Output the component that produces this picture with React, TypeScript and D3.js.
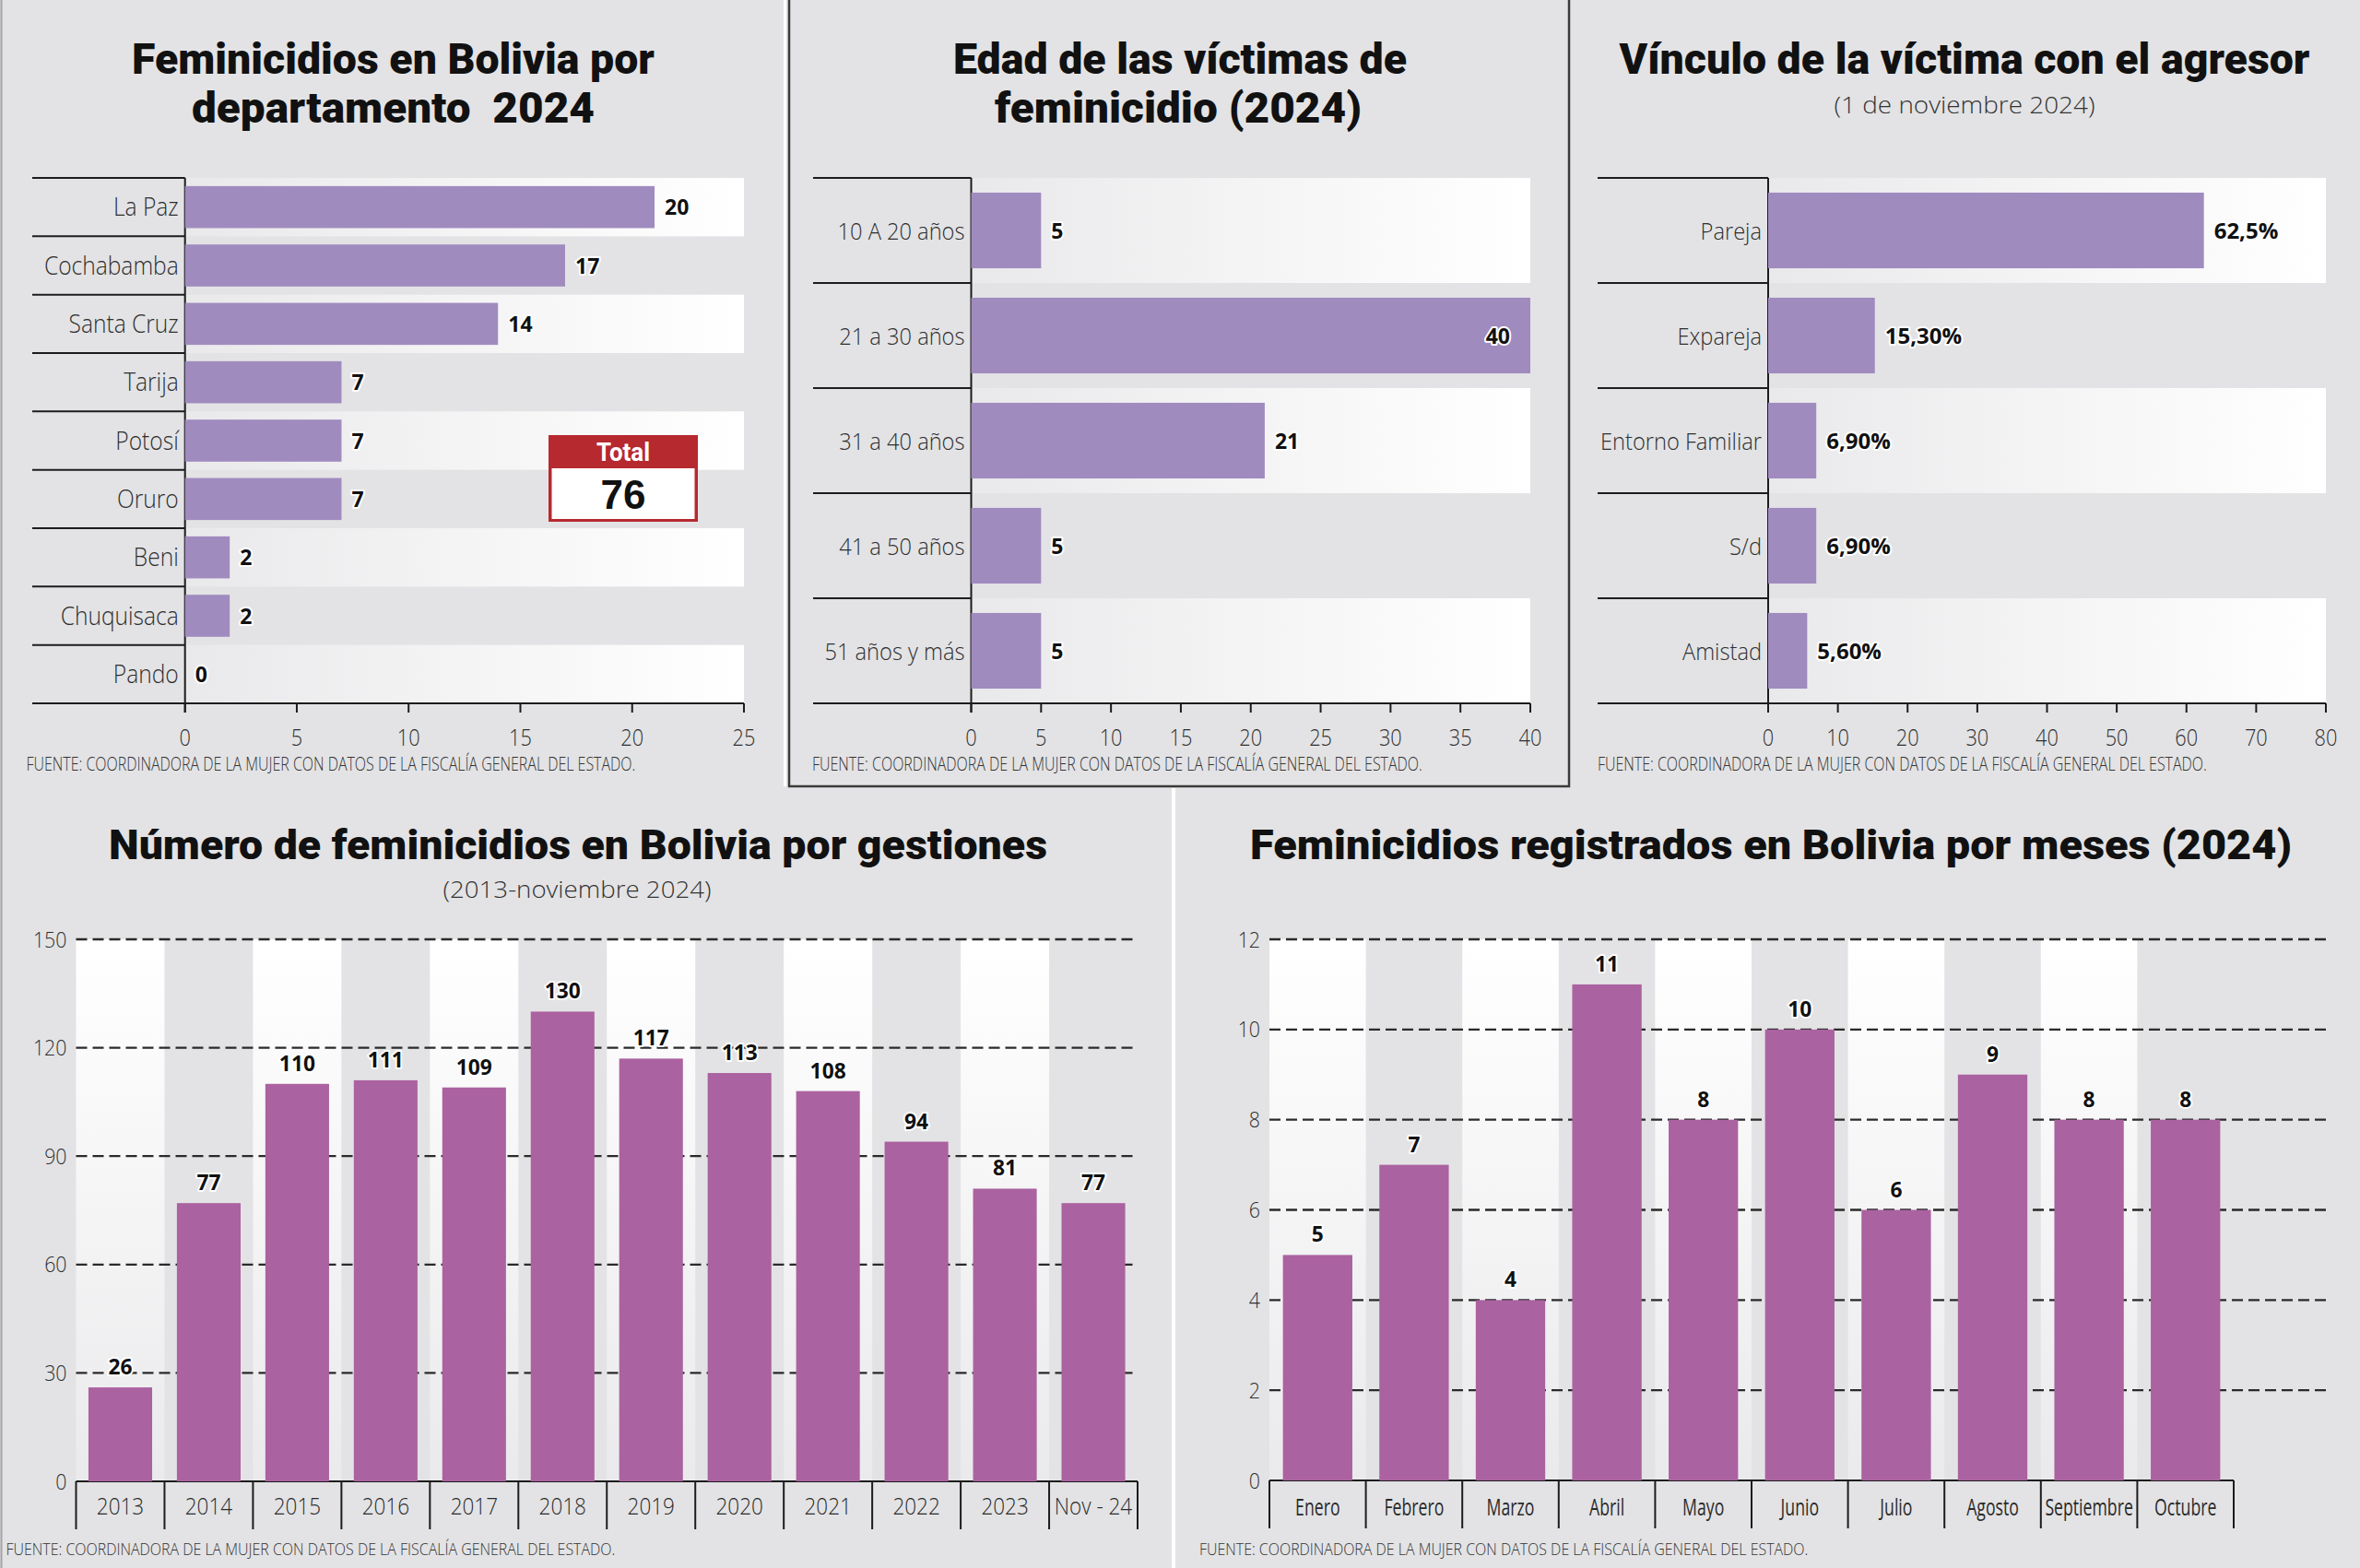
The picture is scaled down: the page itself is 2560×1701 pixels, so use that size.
import React, { useLayoutEffect, useRef, useState } from 'react';
import * as d3 from 'd3';

// ---------- DATA ----------
const deptCategories = ['La Paz', 'Cochabamba', 'Santa Cruz', 'Tarija', 'Potosí', 'Oruro', 'Beni', 'Chuquisaca', 'Pando'];
const deptValues = [21, 17, 14, 7, 7, 7, 2, 2, 0]; // bar lengths as drawn in the picture
const deptLabels = ['20', '17', '14', '7', '7', '7', '2', '2', '0'];
const deptTicks = [0, 5, 10, 15, 20, 25];
const deptTotal = '76';

const ageCategories = ['10 A 20 años', '21 a 30 años', '31 a 40 años', '41 a 50 años', '51 años y más'];
const ageValues = [5, 40, 21, 5, 5];
const ageLabels = ['5', '40', '21', '5', '5'];
const ageTicks = [0, 5, 10, 15, 20, 25, 30, 35, 40];

const linkCategories = ['Pareja', 'Expareja', 'Entorno Familiar', 'S/d', 'Amistad'];
const linkValues = [62.5, 15.3, 6.9, 6.9, 5.6];
const linkLabels = ['62,5%', '15,30%', '6,90%', '6,90%', '5,60%'];
const linkTicks = [0, 10, 20, 30, 40, 50, 60, 70, 80];

const yearCategories = ['2013', '2014', '2015', '2016', '2017', '2018', '2019', '2020', '2021', '2022', '2023', 'Nov - 24'];
const yearValues = [26, 77, 110, 111, 109, 130, 117, 113, 108, 94, 81, 77];
const yearTicks = [0, 30, 60, 90, 120, 150];

const monthCategories = ['Enero', 'Febrero', 'Marzo', 'Abril', 'Mayo', 'Junio', 'Julio', 'Agosto', 'Septiembre', 'Octubre'];
const monthValues = [5, 7, 4, 11, 8, 10, 6, 9, 8, 8];
const monthTicks = [0, 2, 4, 6, 8, 10, 12];

const SOURCE = 'FUENTE: COORDINADORA DE LA MUJER CON DATOS DE LA FISCALÍA GENERAL DEL ESTADO.';

// ---------- STYLE ----------
const BG = '#e3e3e5';
const HBAR = '#a08bbf';
const VBAR = '#ab62a0';
const RED = '#b6292f';
const INK = '#1c1c1c';
const LIGHT = "'Open Sans', 'Noto Sans', sans-serif";
const TITLE = "Roboto, 'Liberation Sans', sans-serif";
const SX = 0.87;

function SText({ x, y, sx = SX, anchor = 'start', size, weight = 300, fill = '#2e2e2e', font = LIGHT, halo = false, children }: any) {
  return (
    <text
      transform={`translate(${x},${y}) scale(${sx},1)`}
      textAnchor={anchor}
      fontSize={size}
      fontWeight={weight}
      fontFamily={font}
      fill={fill}
      stroke={halo ? '#fff' : 'none'}
      strokeWidth={halo ? 4 : 0}
      strokeLinejoin="round"
      paintOrder="stroke"
    >
      {children}
    </text>
  );
}

// Text horizontally scaled so that its rendered width equals `len`
function FitText({ x, y, len, anchor = 'start', size, weight, font, fill, children }: any) {
  const ref = useRef<SVGTextElement>(null);
  const [s, setS] = useState(1);
  useLayoutEffect(() => {
    const measure = () => {
      const el = ref.current;
      if (!el) return;
      const n = el.getComputedTextLength();
      if (n > 0) setS(len / n);
    };
    measure();
    const f: any = (document as any).fonts;
    if (f && f.ready) f.ready.then(measure);
  }, [len, children]);
  return (
    <text ref={ref} transform={`translate(${x},${y}) scale(${s},1)`} textAnchor={anchor} fontSize={size}
      fontWeight={weight} fontFamily={font} fill={fill} style={{ whiteSpace: 'pre' }}>{children}</text>
  );
}

function Title({ x, y, len, size = 46, children }: any) {
  return <FitText x={x} y={y} len={len} anchor="middle" size={size} weight={900} font={TITLE} fill="#111">{children}</FitText>;
}

function Footer({ x, y, len, size = 20 }: any) {
  return <FitText x={x} y={y} len={len} size={size} weight={300} font={LIGHT} fill="#333">{SOURCE}</FitText>;
}

function HBarChart({ cats, vals, labels, ticks, max, x0, x1, top, bottom, lineLeft, labelSize, valueSize }: any) {
  const x = d3.scaleLinear().domain([0, max]).range([x0, x1]);
  const rows = d3.scaleBand<string>().domain(cats).range([top, bottom]);
  const bars = d3.scaleBand<string>().domain(cats).range([top, bottom]).paddingInner(0.28).paddingOuter(0.14);
  const rh = rows.bandwidth();
  return (
    <g>
      {cats.map((c: string, i: number) => i % 2 === 0 ? (
        <rect key={'bg' + c} x={x0} y={rows(c)} width={x1 - x0} height={rh} fill="url(#rowGrad)" />
      ) : null)}
      {cats.map((c: string) => (
        <line key={'ln' + c} x1={lineLeft} x2={x0} y1={rows(c)} y2={rows(c)} stroke={INK} strokeWidth={2} />
      ))}
      <line x1={lineLeft} x2={x1} y1={bottom} y2={bottom} stroke={INK} strokeWidth={2} />
      <line x1={x0} x2={x0} y1={top} y2={bottom + 10} stroke={INK} strokeWidth={2} />
      {ticks.map((t: number) => (
        <g key={'t' + t}>
          <line x1={x(t)} x2={x(t)} y1={bottom} y2={bottom + 10} stroke={INK} strokeWidth={2} />
          <SText x={x(t)} y={bottom + 46} anchor="middle" size={25}>{String(t)}</SText>
        </g>
      ))}
      {cats.map((c: string, i: number) => (
        <rect key={'b' + c} x={x0} y={bars(c)} width={x(vals[i]) - x0} height={bars.bandwidth()} fill={HBAR} />
      ))}
      {cats.map((c: string) => (
        <SText key={'l' + c} x={x0 - 7} y={(rows(c) as number) + rh / 2 + 9.5} anchor="end" size={labelSize} sx={0.91}>{c}</SText>
      ))}
      {cats.map((c: string, i: number) => {
        const inside = vals[i] >= max;
        return (
          <SText key={'v' + c} x={inside ? x(vals[i]) - 22 : x(vals[i]) + 11} y={(rows(c) as number) + rh / 2 + 8.5}
            anchor={inside ? 'end' : 'start'} size={valueSize} weight={700} fill="#111" sx={1} halo>{labels[i]}</SText>
        );
      })}
    </g>
  );
}

function VBarChart({ cats, vals, ticks, max, x0, x1, y0, y1, gridRight, catSize, catSx, catWeight, catY }: any) {
  const y = d3.scaleLinear().domain([0, max]).range([y0, y1]);
  const cols = d3.scaleBand<string>().domain(cats).range([x0, x1]);
  const bars = d3.scaleBand<string>().domain(cats).range([x0, x1]).paddingInner(0.28).paddingOuter(0.14);
  const bw = cols.bandwidth();
  return (
    <g>
      {cats.map((c: string, i: number) => i % 2 === 0 ? (
        <rect key={'bg' + c} x={cols(c)} y={y1} width={bw} height={y0 - y1} fill="url(#colGrad)" />
      ) : null)}
      {ticks.filter((t: number) => t > 0).map((t: number) => (
        <line key={'g' + t} x1={x0} x2={gridRight} y1={y(t)} y2={y(t)} stroke="#2a2a2a" strokeWidth={2.3} strokeDasharray="12 6" />
      ))}
      {ticks.map((t: number) => (
        <SText key={'yt' + t} x={x0 - 10} y={y(t) + 8.5} anchor="end" size={24} sx={0.89}>{String(t)}</SText>
      ))}
      <line x1={x0} x2={x1} y1={y0} y2={y0} stroke={INK} strokeWidth={2} />
      {cats.map((c: string, i: number) => (
        <rect key={'b' + c} x={bars(c)} y={y(vals[i])} width={bars.bandwidth()} height={y0 - y(vals[i])} fill={VBAR} />
      ))}
      {[...cats.map((c: string) => cols(c) as number), x1].map((bx: number, i: number) => (
        <line key={'tk' + i} x1={bx} x2={bx} y1={y0} y2={y0 + 52} stroke={INK} strokeWidth={2} />
      ))}
      {cats.map((c: string) => (
        <SText key={'c' + c} x={(cols(c) as number) + bw / 2} y={catY} anchor="middle" size={catSize} sx={catSx} weight={catWeight}
          fill="#2a2a2a">{c}</SText>
      ))}
      {cats.map((c: string, i: number) => (
        <SText key={'v' + c} x={(cols(c) as number) + bw / 2} y={y(vals[i]) - 14} anchor="middle" size={24} weight={700}
          fill="#111" sx={0.95} halo>{String(vals[i])}</SText>
      ))}
    </g>
  );
}

export default function App() {
  const W = 2560, H = 1701;
  return (
    <svg width={W} height={H} viewBox={`0 0 ${W} ${H}`} style={{ position: 'absolute', left: 0, top: 0, display: 'block' }}>
      <defs>
        <linearGradient id="rowGrad" x1="0" x2="1" y1="0" y2="0">
          <stop offset="0" stopColor="#e9e9eb" />
          <stop offset="1" stopColor="#ffffff" />
        </linearGradient>
        <linearGradient id="colGrad" x1="0" x2="0" y1="0" y2="1">
          <stop offset="0" stopColor="#ffffff" />
          <stop offset="1" stopColor="#eaeaec" />
        </linearGradient>
      </defs>
      <rect x={0} y={0} width={W} height={H} fill={BG} />

      {/* Panel 1 */}
      <Title x={426.5} y={80} len={567}>Feminicidios en Bolivia por</Title>
      <Title x={426.5} y={133} len={437}>{'departamento\u00A0 2024'}</Title>
      <HBarChart cats={deptCategories} vals={deptValues} labels={deptLabels} ticks={deptTicks} max={25}
        x0={200.7} x1={807} top={193} bottom={763} lineLeft={35} labelSize={27} valueSize={23} />
      <g>
        <rect x={595} y={472} width={162} height={94} fill={RED} />
        <rect x={598.5} y={508} width={155} height={55} fill="#fff" />
        <FitText x={676} y={500} len={58} anchor="middle" size={27} weight={700} font={TITLE} fill="#fff">Total</FitText>
        <text x={676} y={552} textAnchor="middle" fontFamily="'Liberation Sans', Arial, sans-serif" fontWeight={700}
          fontSize={44} fill="#111">{deptTotal}</text>
      </g>
      <Footer x={28.5} y={836} len={661} />

      {/* Panel 2 */}
      <Title x={1280} y={80} len={492}>Edad de las víctimas de</Title>
      <Title x={1278} y={133} len={398}>feminicidio (2024)</Title>
      <HBarChart cats={ageCategories} vals={ageValues} labels={ageLabels} ticks={ageTicks} max={40}
        x0={1053.5} x1={1660} top={193} bottom={763} lineLeft={882} labelSize={26} valueSize={23} />
      <Footer x={881} y={836} len={662} />

      {/* Panel 3 */}
      <Title x={2131} y={80} len={749}>Vínculo de la víctima con el agresor</Title>
      <FitText x={2131} y={123} len={283} anchor="middle" size={26} weight={300} font={LIGHT} fill="#333">(1 de noviembre 2024)</FitText>
      <HBarChart cats={linkCategories} vals={linkValues} labels={linkLabels} ticks={linkTicks} max={80}
        x0={1918} x1={2523} top={193} bottom={763} lineLeft={1733} labelSize={26} valueSize={24} />
      <Footer x={1733} y={836} len={661} />

      {/* Panel 4 */}
      <Title x={627} y={932} len={1018} size={44}>Número de feminicidios en Bolivia por gestiones</Title>
      <FitText x={626} y={974} len={291} anchor="middle" size={26} weight={300} font={LIGHT} fill="#333">(2013-noviembre 2024)</FitText>
      <VBarChart cats={yearCategories} vals={yearValues} ticks={yearTicks} max={150}
        x0={82.5} x1={1234} y0={1607} y1={1019} gridRight={1234} catSize={25} catSx={0.9} catWeight={300} catY={1643} />
      <Footer x={6.5} y={1687} len={661} size={19} />

      {/* Panel 5 */}
      <Title x={1921} y={932} len={1130} size={44}>Feminicidios registrados en Bolivia por meses (2024)</Title>
      <VBarChart cats={monthCategories} vals={monthValues} ticks={monthTicks} max={12}
        x0={1377} x1={2423} y0={1606} y1={1019} gridRight={2529} catSize={26} catSx={0.68} catWeight={400} catY={1644} />
      <Footer x={1301} y={1687} len={660} size={19} />

      {/* Panel frames / separators */}
      <line x1={1.5} x2={1.5} y1={0} y2={H} stroke="#a3a3a5" strokeWidth={2} />
      <line x1={851.5} x2={851.5} y1={0} y2={853} stroke="#fff" strokeWidth={3} />
      <rect x={856} y={-3} width={846} height={856} fill="none" stroke="#3a3a3a" strokeWidth={2.5} />
      <line x1={1273} x2={1273} y1={855} y2={H} stroke="#fff" strokeWidth={4} />
    </svg>
  );
}
